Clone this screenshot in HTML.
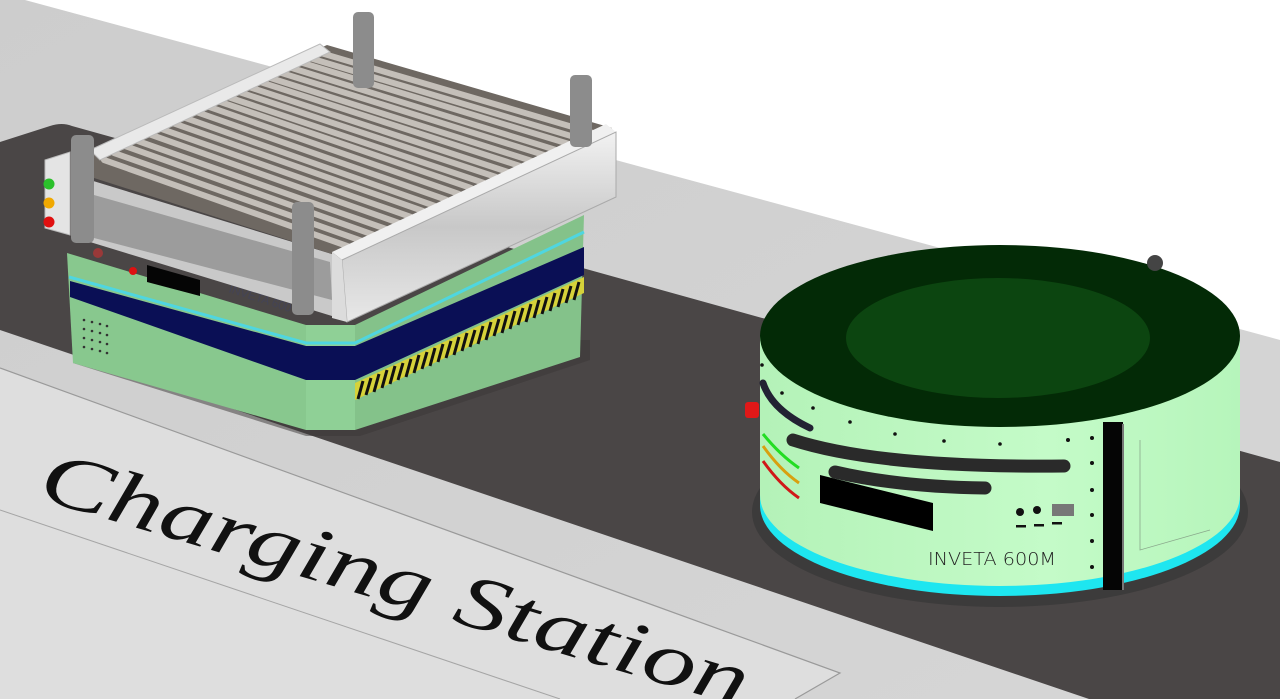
<!DOCTYPE html>
<html><head><meta charset="utf-8"><style>
html,body{margin:0;padding:0;background:#fff;}
svg{display:block;}
</style></head><body>
<svg width="1280" height="699" viewBox="0 0 1280 699" xmlns="http://www.w3.org/2000/svg">
<defs>
<linearGradient id="floor" x1="0" y1="0" x2="1" y2="1">
<stop offset="0" stop-color="#cdcdcd"/><stop offset="1" stop-color="#d6d6d6"/></linearGradient>
<linearGradient id="rail" x1="0" y1="0" x2="0" y2="1">
<stop offset="0" stop-color="#f2f2f2"/><stop offset="0.5" stop-color="#c8c8c8"/><stop offset="1" stop-color="#e8e8e8"/></linearGradient>
<linearGradient id="body" x1="0" y1="0" x2="1" y2="0">
<stop offset="0" stop-color="#b4f2b8"/><stop offset="0.6" stop-color="#c4fbc8"/><stop offset="1" stop-color="#b6f5bb"/></linearGradient>
</defs>
<rect width="1280" height="699" fill="#fff"/>
<polygon points="0,0 25,0 1280,340 1280,699 0,699" fill="url(#floor)"/>
<path d="M0,142 L50,126 Q62,122 72,126 L1280,462 L1280,699 L1089,699 L0,330 Z" fill="#4a4646"/>
<polygon points="0,368 840,673 795,699 0,699" fill="#dedede"/>
<polyline points="0,368 840,673 795,699" fill="none" stroke="#9a9a9a" stroke-width="1.2"/>
<line x1="0" y1="510" x2="560" y2="699" stroke="#a5a5a5" stroke-width="1"/>
<text x="0" y="0" transform="translate(36,498) rotate(16.5)" font-family="Liberation Serif, serif" font-style="italic" font-size="76" fill="#111" textLength="735" lengthAdjust="spacingAndGlyphs">Charging Station</text>

<!-- ===== Left robot ===== -->
<polygon points="73,363 306,436 360,436 590,360 590,340 73,340" fill="#3a3636" opacity="0.5"/>
<polygon points="67,253 306,325 306,430 73,363" fill="#88c88e"/>
<polygon points="306,325 355,325 355,430 306,430" fill="#8fd096"/>
<polygon points="355,325 584,215 580,357 355,430" fill="#84c28a"/>
<polyline points="69,277 306,343 355,343 584,232" fill="none" stroke="#4fd6e0" stroke-width="3"/>
<polygon points="70,281 306,346 355,346 584,247 584,275 355,380 306,380 70,297" fill="#0a0f55"/>
<polygon points="355,383 584,277 584,293 355,400" fill="#d6d23a"/>
<g stroke="#111" stroke-width="3">
<line x1="358" y1="399" x2="363" y2="381"/><line x1="366" y1="395" x2="371" y2="378"/><line x1="374" y1="392" x2="379" y2="374"/><line x1="382" y1="388" x2="387" y2="370"/><line x1="390" y1="384" x2="395" y2="366"/><line x1="398" y1="380" x2="403" y2="363"/><line x1="406" y1="377" x2="411" y2="359"/><line x1="414" y1="373" x2="419" y2="355"/><line x1="422" y1="369" x2="427" y2="352"/><line x1="430" y1="366" x2="435" y2="348"/><line x1="438" y1="362" x2="443" y2="344"/><line x1="446" y1="358" x2="451" y2="341"/><line x1="454" y1="355" x2="459" y2="337"/><line x1="462" y1="351" x2="467" y2="333"/><line x1="470" y1="347" x2="475" y2="330"/><line x1="478" y1="344" x2="483" y2="326"/><line x1="486" y1="340" x2="491" y2="322"/><line x1="494" y1="336" x2="499" y2="319"/><line x1="502" y1="333" x2="507" y2="315"/><line x1="510" y1="329" x2="515" y2="311"/><line x1="518" y1="325" x2="523" y2="308"/><line x1="526" y1="322" x2="531" y2="304"/><line x1="534" y1="318" x2="539" y2="300"/><line x1="542" y1="314" x2="547" y2="297"/><line x1="550" y1="311" x2="555" y2="293"/><line x1="558" y1="307" x2="563" y2="289"/><line x1="566" y1="303" x2="571" y2="286"/><line x1="574" y1="300" x2="579" y2="282"/>
</g>
<g fill="#333">
<circle cx="84" cy="320" r="1.3"/><circle cx="92" cy="322" r="1.3"/><circle cx="100" cy="324" r="1.3"/><circle cx="107" cy="326" r="1.3"/>
<circle cx="84" cy="329" r="1.3"/><circle cx="92" cy="331" r="1.3"/><circle cx="100" cy="333" r="1.3"/><circle cx="107" cy="335" r="1.3"/>
<circle cx="84" cy="338" r="1.3"/><circle cx="92" cy="340" r="1.3"/><circle cx="100" cy="342" r="1.3"/><circle cx="107" cy="344" r="1.3"/>
<circle cx="84" cy="347" r="1.3"/><circle cx="92" cy="349" r="1.3"/><circle cx="100" cy="351" r="1.3"/><circle cx="107" cy="353" r="1.3"/>
</g>
<polygon points="147,265 200,280 200,296 147,282" fill="#050505"/>
<circle cx="133" cy="271" r="4" fill="#d11"/>
<circle cx="98" cy="253" r="5" fill="#b33" opacity="0.7"/>
<text x="0" y="0" transform="translate(228,292) rotate(18)" font-family="Liberation Sans, sans-serif" font-size="12" fill="#445">INVETA 600</text>

<!-- conveyor -->
<polygon points="90,180 335,255 345,320 90,242" fill="#c9c9c9"/>
<polygon points="94,195 330,262 332,300 94,238" fill="#9c9c9c"/>
<polygon points="94,150 327,45 612,128 335,255 94,178" fill="#6e6862"/>
<g stroke="#c4bfb9" stroke-width="6" stroke-linecap="round">
<line x1="104" y1="160" x2="350" y2="247"/><line x1="114" y1="153" x2="362" y2="241"/><line x1="125" y1="146" x2="374" y2="235"/><line x1="135" y1="140" x2="386" y2="229"/><line x1="146" y1="133" x2="399" y2="223"/><line x1="156" y1="127" x2="411" y2="217"/><line x1="167" y1="121" x2="423" y2="211"/><line x1="177" y1="115" x2="435" y2="206"/><line x1="188" y1="109" x2="447" y2="200"/><line x1="198" y1="103" x2="459" y2="194"/><line x1="209" y1="98" x2="471" y2="188"/><line x1="219" y1="94" x2="484" y2="183"/><line x1="230" y1="89" x2="496" y2="177"/><line x1="240" y1="84" x2="508" y2="172"/><line x1="251" y1="79" x2="520" y2="166"/><line x1="261" y1="75" x2="532" y2="161"/><line x1="272" y1="70" x2="544" y2="155"/><line x1="282" y1="65" x2="556" y2="150"/><line x1="293" y1="60" x2="569" y2="144"/><line x1="303" y1="56" x2="581" y2="139"/><line x1="314" y1="51" x2="593" y2="133"/>
</g>
<polygon points="90,150 320,44 330,52 100,160" fill="#e9e9e9" stroke="#bbb" stroke-width="1"/>
<polygon points="332,252 606,124 616,132 342,260" fill="#f0f0f0"/>
<polygon points="342,260 616,132 616,197 347,322" fill="url(#rail)" stroke="#aaa" stroke-width="1"/>
<polygon points="332,252 342,260 347,322 332,318" fill="#dcdcdc"/>
<polygon points="45,160 70,152 70,235 45,228" fill="#e4e4e4" stroke="#bbb"/>
<circle cx="49" cy="184" r="5.5" fill="#2bc02b"/>
<circle cx="49" cy="203" r="5.5" fill="#f0a800"/>
<circle cx="49" cy="222" r="5.5" fill="#e01010"/>
<g fill="#8c8c8c">
<rect x="353" y="12" width="21" height="76" rx="5"/>
<rect x="570" y="75" width="22" height="72" rx="5"/>
<rect x="71" y="135" width="23" height="108" rx="5"/>
<rect x="292" y="202" width="22" height="113" rx="5"/>
</g>

<!-- ===== Right robot ===== -->
<ellipse cx="1000" cy="512" rx="248" ry="95" fill="#333" opacity="0.6"/>
<path d="M760,336 L760,505 A240 91 0 0 0 1240 505 L1240,336 Z" fill="#1ee6f0"/>
<path d="M760,336 L760,495 A240 91 0 0 0 1240 495 L1240,336 Z" fill="url(#body)"/>
<ellipse cx="1000" cy="336" rx="240" ry="91" fill="#032a06"/>
<ellipse cx="998" cy="338" rx="152" ry="60" fill="#0c4510"/>
<rect x="1103" y="422" width="20" height="168" fill="#050505"/>
<line x1="1123" y1="424" x2="1123" y2="590" stroke="#777" stroke-width="2"/>
<polyline points="1140,440 1140,550 1210,530" fill="none" stroke="#8aa88c" stroke-width="0.8"/>
<circle cx="1155" cy="263" r="8" fill="#444"/>
<path d="M763,383 Q772,410 810,428" stroke="#222233" stroke-width="7" fill="none" stroke-linecap="round"/>
<path d="M793,440 Q880,468 1064,466" stroke="#2a2a2a" stroke-width="13" fill="none" stroke-linecap="round"/>
<path d="M835,472 Q900,487 985,488" stroke="#2a2a2a" stroke-width="13" fill="none" stroke-linecap="round"/>
<path d="M763,434 Q780,455 799,468" stroke="#22dd22" stroke-width="3" fill="none"/>
<path d="M763,446 Q780,470 799,483" stroke="#d8a010" stroke-width="3" fill="none"/>
<path d="M763,461 Q780,485 799,498" stroke="#d01818" stroke-width="3" fill="none"/>
<polygon points="820,475 933,503 933,531 820,503" fill="#000"/>
<rect x="745" y="402" width="14" height="16" rx="3" fill="#e01818"/>
<text x="928" y="565" font-family="DejaVu Sans, Liberation Sans, sans-serif" font-size="18" fill="#222" textLength="128" lengthAdjust="spacingAndGlyphs" font-weight="200">INVETA 600M</text>
<g fill="#111">
<circle cx="1020" cy="512" r="4"/><circle cx="1037" cy="510" r="4"/>
<rect x="1052" y="504" width="22" height="12" fill="#777"/>
<rect x="1016" y="525" width="10" height="2.5"/><rect x="1034" y="524" width="10" height="2.5"/><rect x="1052" y="522" width="10" height="2.5"/>
<circle cx="782" cy="393" r="1.8"/><circle cx="813" cy="408" r="1.8"/><circle cx="850" cy="422" r="1.8"/><circle cx="895" cy="434" r="1.8"/><circle cx="944" cy="441" r="1.8"/><circle cx="1000" cy="444" r="1.8"/><circle cx="1068" cy="440" r="2"/><circle cx="1092" cy="438" r="2"/>
<circle cx="1092" cy="463" r="2"/><circle cx="1092" cy="490" r="2"/><circle cx="1092" cy="515" r="2"/><circle cx="1092" cy="541" r="2"/><circle cx="1092" cy="567" r="2"/>
<circle cx="762" cy="365" r="1.8"/>
</g>
</svg>
</body></html>
